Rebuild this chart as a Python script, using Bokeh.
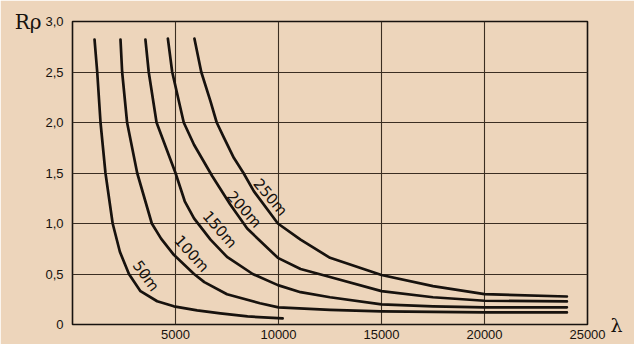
import math
from bokeh.plotting import figure
from bokeh.models import FixedTicker, LinearAxis
from bokeh.core.properties import value
from bokeh.embed import file_html
from bokeh.resources import INLINE

# ---- data ----
x_name = "λ"
y_name = "Rρ"
x_ticks = [5000, 10000, 15000, 20000, 25000]
x_tick_labels = ["5000", "10000", "15000", "20000", "25000"]
y_ticks = [0, 0.5, 1.0, 1.5, 2.0, 2.5, 3.0]
y_tick_labels = ["0", "0,5", "1,0", "1,5", "2,0", "2,5", "3,0"]

lam_50m = [1070, 1200, 1360, 1600, 1950, 2300, 2740, 3300, 4110, 4920, 6050, 7180, 8500, 10200]
r_50m = [2.82, 2.50, 2.00, 1.50, 1.00, 0.72, 0.50, 0.33, 0.23, 0.18, 0.14, 0.11, 0.08, 0.06]

lam_100m = [2330, 2410, 2650, 3140, 3850, 4300, 4920, 5900, 6400, 7500, 9100, 10000, 12500, 15000, 17500, 20000, 24000]
r_100m = [2.82, 2.50, 2.00, 1.50, 1.00, 0.85, 0.69, 0.50, 0.42, 0.30, 0.21, 0.17, 0.145, 0.13, 0.125, 0.12, 0.12]

lam_150m = [3540, 3700, 4080, 5000, 5450, 5900, 6700, 7500, 8750, 9970, 11070, 12500, 15000, 17500, 20000, 24000]
r_150m = [2.82, 2.50, 2.00, 1.50, 1.22, 1.05, 0.84, 0.67, 0.50, 0.39, 0.32, 0.27, 0.20, 0.18, 0.17, 0.17]

lam_200m = [4630, 4840, 5400, 5900, 6780, 7650, 8480, 9970, 11070, 12500, 15000, 17500, 20000, 24000]
r_200m = [2.83, 2.50, 2.00, 1.78, 1.47, 1.19, 0.95, 0.66, 0.55, 0.47, 0.33, 0.27, 0.235, 0.228]

lam_250m = [5920, 6250, 6700, 7000, 7350, 7830, 8300, 8800, 9970, 11070, 12500, 15000, 17500, 20000, 24000]
r_250m = [2.83, 2.50, 2.21, 2.00, 1.85, 1.65, 1.50, 1.32, 1.00, 0.84, 0.66, 0.49, 0.38, 0.30, 0.277]

curve_names = ["50m", "100m", "150m", "200m", "250m"]

# label placement along the curves
label_lam = [3560, 5780, 7150, 8330, 9600]
label_r = [0.48, 0.70, 0.94, 1.14, 1.26]
label_angle_deg = [-54, -48, -49, -48, -50]

# ---- styling ----
PAPER = "#EDD5BB"
INK = "#17120e"
GRID = "#3b2e22"

p = figure(width=634, height=344, output_backend="svg", toolbar_location=None,
           x_range=(0, 25000), y_range=(0, 3.0),
           min_border_left=72, min_border_right=47, min_border_top=21, min_border_bottom=20)
p.background_fill_color = PAPER
p.border_fill_color = PAPER
p.outline_line_color = INK
p.outline_line_width = 1.6

p.xaxis.ticker = FixedTicker(ticks=x_ticks)
p.yaxis.ticker = FixedTicker(ticks=y_ticks)
p.xaxis.major_label_overrides = {t: s for t, s in zip(x_ticks, x_tick_labels)}
p.yaxis.major_label_overrides = {t: s for t, s in zip(y_ticks, y_tick_labels)}

# axis names drawn as extra, label-only axes (Rρ at the top left, λ at the bottom right)
y_name_axis = LinearAxis(ticker=FixedTicker(ticks=[y_ticks[-1]]),
                         major_label_overrides={y_ticks[-1]: y_name})
x_name_axis = LinearAxis(ticker=FixedTicker(ticks=[y_ticks[0]]),
                         major_label_overrides={y_ticks[0]: x_name})
p.add_layout(y_name_axis, "left")
p.add_layout(x_name_axis, "right")

for ax in (p.xaxis[0], p.yaxis[0], y_name_axis, x_name_axis):
    ax.axis_line_color = None
    ax.major_tick_line_color = None
    ax.minor_tick_line_color = None
    ax.major_tick_out = 0
    ax.major_tick_in = 0
    ax.minor_tick_out = 0
    ax.minor_tick_in = 0
    ax.major_label_text_color = INK
    ax.major_label_text_font = "Liberation Sans"
    ax.major_label_text_font_size = "13px"
p.xaxis[0].major_label_standoff = 5
p.yaxis[0].major_label_standoff = 9
y_name_axis.major_label_standoff = 1
y_name_axis.major_label_text_font = "DejaVu Serif"
y_name_axis.major_label_text_font_size = "20px"
x_name_axis.major_label_standoff = 23
x_name_axis.major_label_text_font = "DejaVu Serif"
x_name_axis.major_label_text_font_size = "19px"

p.xgrid.ticker = FixedTicker(ticks=x_ticks[:-1])
p.ygrid.ticker = FixedTicker(ticks=y_ticks[1:-1])
for g in (p.xgrid, p.ygrid):
    g.grid_line_color = GRID
    g.grid_line_width = 1.1

for lx, ly in [(lam_50m, r_50m), (lam_100m, r_100m), (lam_150m, r_150m),
               (lam_200m, r_200m), (lam_250m, r_250m)]:
    p.line(lx, ly, line_color=INK, line_width=2.7, line_join="round", line_cap="round")

p.text(x=label_lam, y=label_r, text=curve_names,
       angle=[math.radians(a) for a in label_angle_deg],
       text_align="center", text_baseline="middle",
       text_font=value("DejaVu Sans"), text_font_size=value("15px"),
       text_color=INK)

open("out.html", "w").write(file_html(p, INLINE))
